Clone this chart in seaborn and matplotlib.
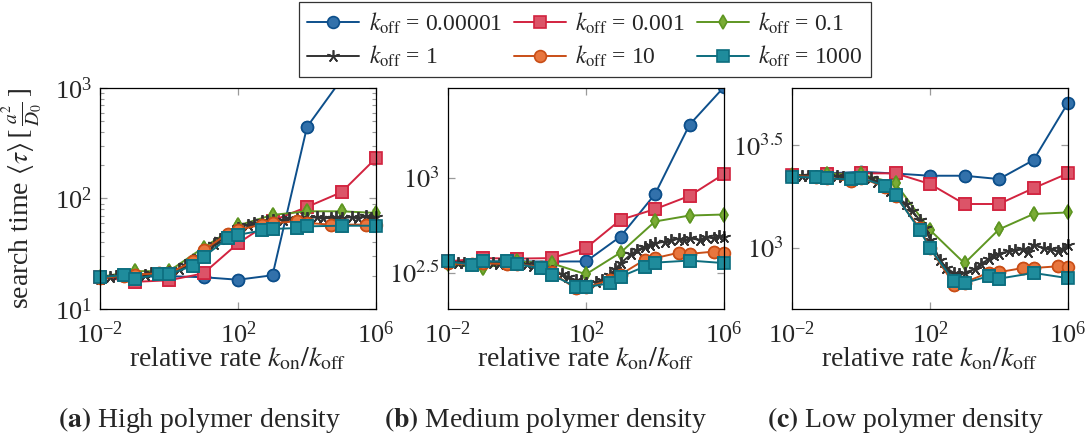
import numpy as np
import matplotlib
matplotlib.use("Agg")
import matplotlib.pyplot as plt
import matplotlib.ticker as mticker
from matplotlib.lines import Line2D
import seaborn as sns

# ---- data ----
x_dec = [1e-2, 1e-1, 1, 1e1, 1e2, 1e3, 1e4, 1e5, 1e6]
x_orange = [1e-2, 5e-2, 1e-1, 5e-1, 1, 5, 10, 50, 100, 500, 1e3, 5e3, 1e4, 5e4, 1e5, 5e5, 1e6]
x_teal = [1e-2, 5e-2, 1e-1, 5e-1, 1, 5, 10, 50, 100, 500, 1e3, 5e3, 1e4, 1e5, 1e6]
x_star = [0.01, 0.02, 0.03, 0.05, 0.07, 0.1, 0.2, 0.3, 0.5, 0.7,
          1, 2, 3, 5, 7, 10, 20, 30, 50, 70,
          100, 200, 300, 500, 700, 1e3, 2e3, 3e3, 5e3, 7e3,
          1e4, 2e4, 3e4, 5e4, 7e4, 1e5, 2e5, 3e5, 5e5, 7e5, 1e6]

# panel (a) high density
blue_a = [19.5, 19.5, 19.8, 19.4, 18.4, 20.2, 444, 1200, 3000]
red_a = [19.5, 17.6, 18.2, 21, 39.3, 63, 83.8, 114, 232]
green_a = [19.5, 22, 22, 36, 57, 71, 76.6, 76.6, 74]
star_a = [18.8, 19.5, 20, 20.5, 20, 20.3, 20.5, 21, 21, 21,
          21.5, 23, 25, 27, 30, 33, 39, 43, 48, 51,
          54, 58, 60, 62, 63, 64, 64, 66, 65, 67,
          66, 68, 66, 67, 68, 66, 68, 67, 69, 67, 68]
orange_a = [19, 20, 20.5, 21, 21, 27, 34, 48, 52, 58, 60, 62, 60, 58, 58, 58, 58]
teal_a = [19.4, 20.3, 18.6, 20.7, 20.7, 24.6, 29.5, 43.7, 46.8, 51.5, 53, 54, 56, 56.7, 56.7]

# panel (b) medium density
blue_b = [363, 363, 363, 363, 363, 491, 820, 1900, 3000]
red_b = [363, 378, 376, 378, 427, 601, 684, 803, 1047]
green_b = [352, 335, 363, 355, 311, 404, 589, 633, 641]
star_b = [355, 358, 355, 352, 356, 358, 355, 352, 356, 350,
          352, 351, 345, 340, 330, 322, 312, 300, 290, 285,
          280, 283, 290, 310, 330, 355, 395, 415, 435, 445,
          452, 462, 470, 478, 468, 480, 472, 488, 480, 492, 490]
orange_b = [355, 350, 355, 352, 350, 340, 318, 262, 265, 290, 310, 370, 378, 404, 398, 409, 401]
teal_b = [363, 349, 363, 363, 351, 335, 309, 268, 266, 279, 302, 341, 358, 367, 356]

# panel (c) low density
blue_c = [2239, 2300, 2346, 2300, 2244, 2244, 2162, 2673, 5070]
red_c = [2250, 2290, 2305, 2305, 2046, 1636, 1636, 1952, 2305]
green_c = [2250, 2290, 2280, 2062, 1223, 843, 1232, 1463, 1489]
star_c = [2230, 2235, 2240, 2230, 2220, 2210, 2230, 2220, 2200, 2210,
          2220, 2180, 2100, 2000, 1900, 1800, 1640, 1520, 1370, 1250,
          1100, 870, 800, 755, 750, 760, 790, 840, 880, 925,
          940, 965, 975, 985, 960, 1040, 1000, 985, 965, 990, 1030]
orange_c = [2230, 2220, 2200, 2120, 2190, 1980, 1790, 1250, 1000, 664, 680, 760, 764, 800, 800, 815, 810]
teal_c = [2218, 2203, 2178, 2153, 2193, 2000, 1808, 1223, 996, 689, 676, 730, 710, 757, 714]

koff_labels = ["0.00001", "0.001", "0.1", "1", "10", "1000"]
captions = ["(a)", "(b)", "(c)"]
caption_text = ["High polymer density", "Medium polymer density", "Low polymer density"]

# ---- style ----
sns.set_style("ticks")
plt.rcParams["font.family"] = ["Liberation Serif", "DejaVu Serif"]
plt.rcParams["mathtext.fontset"] = "stix"
plt.rcParams["font.size"] = 18

styles = [
    dict(color="#0d4f8b", marker="o", markersize=8.5, markerfacecolor="#3271ab", markeredgecolor="#0d4f8b"),
    dict(color="#d2233f", marker="s", markersize=8.5, markerfacecolor="#dc5468", markeredgecolor="#d2233f"),
    dict(color="#5e9622", marker="d", markersize=7.5, markerfacecolor="#7aac35", markeredgecolor="#5e9622"),
    dict(color="#333333", marker=(5, 2, 0), markersize=9, markerfacecolor="#333333", markeredgecolor="#333333"),
    dict(color="#c94e17", marker="o", markersize=8.5, markerfacecolor="#e8763e", markeredgecolor="#c94e17"),
    dict(color="#0c6d7e", marker="s", markersize=8.5, markerfacecolor="#1f8c9c", markeredgecolor="#0c6d7e"),
]

panels = [
    dict(series=[blue_a, red_a, green_a, star_a, orange_a, teal_a], ylim=(10, 1000),
         yticks=None),
    dict(series=[blue_b, red_b, green_b, star_b, orange_b, teal_b], ylim=(10 ** 2.31, 10 ** 3.472),
         yticks=([10 ** 2.5, 10 ** 3], [r"$10^{2.5}$", r"$10^{3}$"])),
    dict(series=[blue_c, red_c, green_c, star_c, orange_c, teal_c], ylim=(10 ** 2.704, 10 ** 3.777),
         yticks=([10 ** 3, 10 ** 3.5], [r"$10^{3}$", r"$10^{3.5}$"])),
]
xs = [x_dec, x_dec, x_dec, x_star, x_orange, x_teal]

W, H = 1085, 443
fig = plt.figure(figsize=(W / 100, H / 100), dpi=100)
lefts = [100, 448, 792]

for i, p in enumerate(panels):
    ax = fig.add_axes([lefts[i] / W, 1 - 309 / H, 276 / W, 221 / H])
    ax.set_xscale("log")
    ax.set_yscale("log")
    lo, hi = p["ylim"]
    for x, y, st in zip(xs, p["series"], styles):
        sns.lineplot(x=x, y=y, ax=ax, errorbar=None, linewidth=1.4,
                     markeredgewidth=1.2, **st)
        # markers on the frame are drawn whole, as in pgfplots
        xi = [a for a, b in zip(x, y) if lo <= b <= hi]
        yi = [b for b in y if lo <= b <= hi]
        sns.lineplot(x=xi, y=yi, ax=ax, errorbar=None, linestyle="",
                     markeredgewidth=1.2, clip_on=False, **st)
    if ax.get_legend() is not None:
        ax.get_legend().remove()

    ax.set_xlim(1e-2, 1e6)
    ax.set_ylim(lo, hi)
    ax.xaxis.set_major_locator(mticker.FixedLocator([1e-2, 1e2, 1e6]))
    ax.xaxis.set_minor_locator(mticker.NullLocator())
    if p["yticks"] is None:
        ax.yaxis.set_major_locator(mticker.LogLocator(base=10))
        ax.yaxis.set_minor_locator(mticker.LogLocator(base=10, subs=np.arange(2, 10)))
        ax.yaxis.set_minor_formatter(mticker.NullFormatter())
    else:
        ax.yaxis.set_major_locator(mticker.FixedLocator(p["yticks"][0]))
        ax.yaxis.set_major_formatter(mticker.FixedFormatter(p["yticks"][1]))
        ax.yaxis.set_minor_locator(mticker.NullLocator())
    ax.tick_params(which="both", direction="in", top=True, right=True,
                   color="#9a9a9a", labelsize=19)
    ax.tick_params(axis="x", pad=9)
    ax.tick_params(axis="y", pad=6)
    ax.tick_params(which="major", length=5, width=0.9)
    ax.tick_params(which="minor", length=3, width=0.8)
    for s in ax.spines.values():
        s.set_color("black")
        s.set_linewidth(0.9)

    ax.set_xlabel(r"relative rate $k_{\mathrm{on}}/k_{\mathrm{off}}$", fontsize=20)
    ax.xaxis.set_label_coords(0.5, -0.165)
    if i == 0:
        ax.set_ylabel(r"search time $\langle\tau\rangle\,[\,\frac{a^2}{D_0}\,]$", fontsize=20)
        ax.yaxis.set_label_coords(-0.2, 0.5)
    else:
        ax.set_ylabel("")

# captions below each panel
cap_x = [200, 546, 906]
for cx, c, t in zip(cap_x, captions, caption_text):
    fig.text(cx / W, 1 - 420 / H, r"$\mathbf{" + c + "}$ " + t, ha="center", va="center", fontsize=20)

# shared legend on top
handles = [Line2D([], [], linewidth=1.4, markeredgewidth=1.2, **st) for st in styles]
labels = [r"$k_{\mathrm{off}}$ = " + k for k in koff_labels]
order = [0, 3, 1, 4, 2, 5]
leg = fig.legend([handles[j] for j in order], [labels[j] for j in order],
                 ncol=3, loc="upper center", bbox_to_anchor=(585 / W, 1 - 2 / H),
                 frameon=True, fancybox=False, edgecolor="#333333", framealpha=1,
                 fontsize=17, handlelength=2.2, handletextpad=0.4, columnspacing=0.5,
                 labelspacing=0.35, borderpad=0.35, borderaxespad=0)
leg.get_frame().set_linewidth(0.9)

fig.savefig("out.png", dpi=100)
